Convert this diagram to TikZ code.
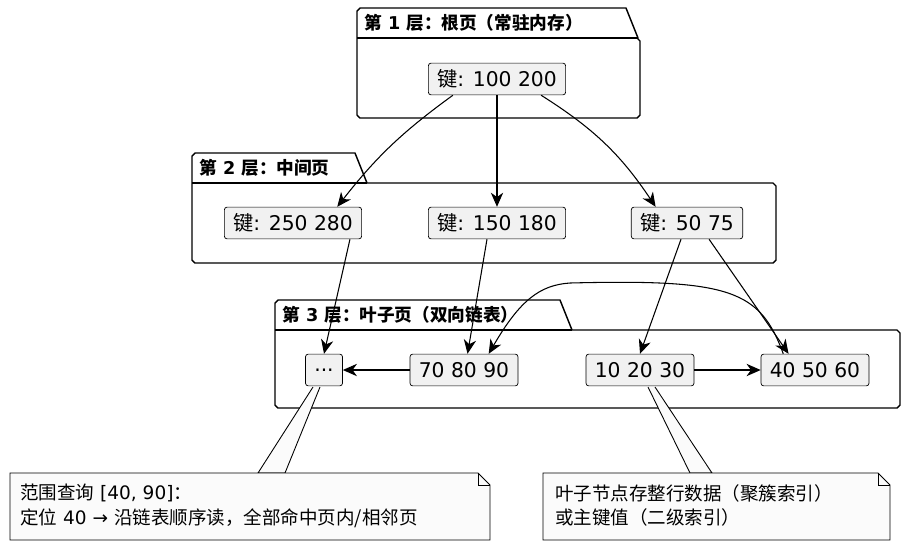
\documentclass[tikz,border=0pt]{standalone}
\usepackage{fontspec}
\setmainfont{DejaVu Sans}
\newfontfamily\cjk{Noto Sans CJK SC}
\usetikzlibrary{arrows.meta}
\definecolor{boxgray}{HTML}{F1F1F1}
\definecolor{notegray}{HTML}{FBFBFB}
\newcommand\folder[6]{% x1 y1 x2 y2 tabx title
  \draw[pkg] (#1,#2+30) -- (#1,#2+3) -- (#1+3,#2) -- (#5,#2) -- (#5+12,#2+30) -- (#3-3,#2+30) -- (#3,#2+33)
    -- (#3,#4-3) -- (#3-3,#4) -- (#1+3,#4) -- (#1,#4-3) -- cycle;
  \draw[pkg] (#1,#2+30) -- (#5+12,#2+30);
  \node[ttl,anchor=west] at (#1+1,#2+15) {#6};}
\begin{document}
\begin{tikzpicture}[x=0.567pt,y=-0.567pt,
  pkg/.style = {thick,line join=round},
  ttl/.style = {font=\bfseries\fontsize{10}{12}\selectfont},
  key/.style = {draw,fill=boxgray,rounded corners=1.5pt,inner xsep=5pt,minimum height=18pt,font=\fontsize{11.5}{13}\selectfont},
  arrow/.style = {line width=0.6pt,-{Stealth[length=8pt,width=7pt,inset=2.5pt]}},
  note/.style = {fill=notegray,draw,line width=0.5pt},
  txt/.style = {anchor=north west,align=left,font=\fontsize{10.5}{14}\selectfont}]
  \useasboundingbox (0,0) rectangle (909,548);
  % packages
  \folder{357}{8}{640}{118}{626}{{\cjk 第} 1 {\cjk 层：根页（常驻内存）}}
  \folder{192}{153}{776}{263}{355}{{\cjk 第} 2 {\cjk 层：中间页}}
  \folder{275}{300}{900}{408}{560}{{\cjk 第} 3 {\cjk 层：叶子页（双向链表）}}
  % nodes
  \node[key] (root) at (497,79) {\cjk 键\normalfont: 100 200};
  \node[key] (midA) at (293,223) {\cjk 键\normalfont: 250 280};
  \node[key] (midB) at (497,223) {\cjk 键\normalfont: 150 180};
  \node[key] (midC) at (687,223) {\cjk 键\normalfont: 50 75};
  \node[key] (dots) at (324,370) {...};
  \node[key] (leafA) at (464,370) {70 80 90};
  \node[key] (leafB) at (640,370) {10 20 30};
  \node[key] (leafC) at (815,370) {40 50 60};
  % edges
  \draw[arrow] ([xshift=-25]root.south) to[bend right=8] ([xshift=-14]midA.north east);
  \draw[arrow] (root) -- (midB);
  \draw[arrow] ([xshift=25]root.south) to[bend left=12] ([xshift=14]midC.north west);
  \draw[arrow] (midA.south east) ++(-12,0) -- (dots.north);
  \draw[arrow] (midB.south) ++(-10,0) -- ([xshift=2]leafA.north);
  \draw[arrow] (midC.south) ++(-6,0) -- (leafB.north);
  \draw[arrow] (midC.south east) ++(-34,0) -- ([xshift=-15]leafC.north);
  \draw[arrow] ([xshift=-18]leafC.north) .. controls (760,290) and (730,279) .. (570,283)
    .. controls (540,285) and (520,300) .. ([xshift=14]leafA.north);
  \draw[arrow] (leafB) -- (leafC);
  \draw[arrow] (leafA) -- (dots);
  % notes
  \draw[note] (313,387) -- (258,473) -- (285,473) -- (320,387);
  \draw[note] (10,473) -- (478,473) -- (490,485) -- (490,540) -- (10,540) -- cycle;
  \draw[line width=0.5pt] (478,473) -- (478,485) -- (490,485);
  \draw[fill=notegray,draw=notegray] (259,474) rectangle (284,476);
  \node[txt] (noteA) at (14,478)
    {\cjk 范围查询\normalfont{} [40, 90]\cjk：\\\cjk 定位\normalfont{} 40 → \cjk 沿链表顺序读，全部命中页内/相邻页};
  \draw[note] (648,387) -- (690,473) -- (712,473) -- (655,387);
  \draw[note] (543,473) -- (878,473) -- (890,485) -- (890,540) -- (543,540) -- cycle;
  \draw[line width=0.5pt] (878,473) -- (878,485) -- (890,485);
  \draw[fill=notegray,draw=notegray] (691,474) rectangle (711,476);
  \node[txt] (noteB) at (549,478)
    {\cjk 叶子节点存整行数据（聚簇索引）\\\cjk 或主键值（二级索引）};
\end{tikzpicture}
\end{document}
